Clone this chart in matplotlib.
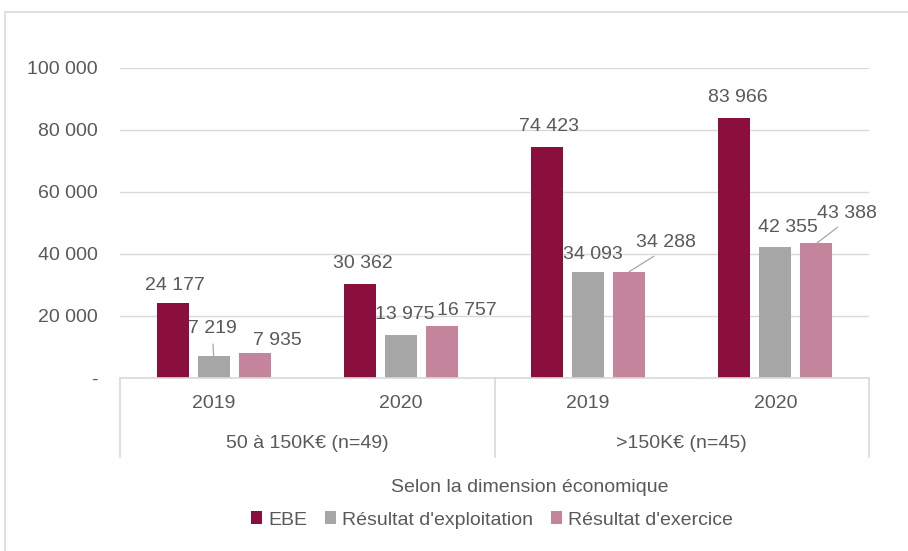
import numpy as np
import matplotlib
matplotlib.use('Agg')
import matplotlib.pyplot as plt
from matplotlib.patches import Rectangle

# data
years = ['2019', '2020', '2019', '2020']
groups = ['50 à 150K€ (n=49)', '>150K€ (n=45)']
series = ['EBE', "Résultat d'exploitation", "Résultat d'exercice"]
ebe = [24177, 30362, 74423, 83966]
res_expl = [7219, 13975, 34093, 42355]
res_exer = [7935, 16757, 34288, 43388]
yticks = [0, 20000, 40000, 60000, 80000, 100000]

colors = ['#8a0f3c', '#a6a6a6', '#c4849c']
txt = '#595959'
grid = '#d9d9d9'

# label offsets in pixels (dx, dy) from top of each bar
label_off = [
    [(2, 18), (3, 20), (2, 21), (3, 20)],
    [(-1, 27), (4, 20), (5, 18), (13, 19)],
    [(23, 13), (25, 16), (37, 29), (31, 30)],
]
# leader lines: (series, category) -> relpos on text
leaders = {(1, 0): (0.5, 0.0), (2, 2): (0.43, 0.0), (2, 3): (0.45, 0.0)}

plt.rcParams['font.family'] = ['Liberation Sans', 'DejaVu Sans']
fs = 14

fig = plt.figure(figsize=(9.08, 5.51), dpi=100)
fig.patches.append(Rectangle((5 / 908, -0.2), 1.2, 1.2 + (551 - 12) / 551 - 1.0,
                             transform=fig.transFigure, fill=False,
                             edgecolor=grid, linewidth=1.2))
ax = fig.add_axes([120 / 908, 1 - 378 / 551, 749 / 908, 310 / 551])

x = np.arange(len(years))
width = 0.171
step = 0.219
all_vals = [ebe, res_expl, res_exer]
for i, (vals, name) in enumerate(zip(all_vals, series)):
    xs = x + (i - 1) * step
    ax.bar(xs, vals, width, color=colors[i], label=name, zorder=3)
    for j, v in enumerate(vals):
        lab = f'{v:,}'.replace(',', ' ')
        dx, dy = label_off[i][j]
        kw = {}
        if (i, j) in leaders:
            kw['arrowprops'] = dict(arrowstyle='-', color='#a6a6a6', lw=0.9,
                                    relpos=leaders[(i, j)], shrinkA=3, shrinkB=0)
        ax.annotate(lab, (xs[j], v), xytext=(dx, dy), textcoords='offset pixels',
                    ha='center', va='center', fontsize=fs, color=txt, **kw)

ax.set_xlim(-0.5, 3.5)
ax.set_ylim(0, 100000)
ax.set_yticks(yticks)
ax.set_yticklabels(['-'] + [f'{t:,}'.replace(',', ' ') for t in yticks[1:]])
ax.tick_params(axis='y', length=0, pad=16, labelsize=fs, labelcolor=txt)
ax.set_xticks([])
ax.grid(axis='y', color=grid, linewidth=1, zorder=0)
for s in ax.spines.values():
    s.set_visible(False)

# multi-level category axis
tr = ax.get_xaxis_transform()
ax.plot([-0.5, 3.5], [0, 0], transform=tr, color=grid, lw=1.2, clip_on=False, zorder=4)
for xv in [-0.5, 1.5, 3.5]:
    ax.plot([xv, xv], [0, -79 / 310], transform=tr, color=grid, lw=1.2, clip_on=False)
for j, y in enumerate(years):
    ax.text(x[j], -25 / 310, y, transform=tr, ha='center', va='center',
            fontsize=fs, color=txt)
for k, g in enumerate(groups):
    ax.text(0.5 + 2 * k, -66 / 310, g, transform=tr, ha='center', va='center',
            fontsize=fs, color=txt)

fig.text(530 / 908, 1 - 487 / 551, 'Selon la dimension économique',
         ha='center', va='center', fontsize=fs, color=txt)

fig.legend(loc='center', bbox_to_anchor=(492 / 908, 1 - 520 / 551), ncol=3,
           frameon=False, fontsize=fs, labelcolor=txt, handlelength=0.6,
           handleheight=0.6, handletextpad=0.3, columnspacing=0.9)

fig.savefig('out.png', dpi=100)
